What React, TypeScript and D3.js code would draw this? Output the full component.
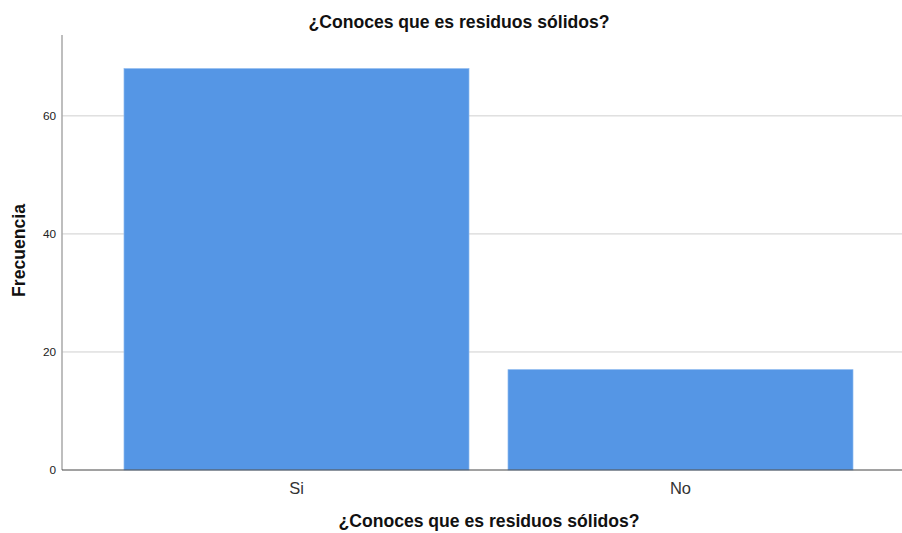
import React from "react";
import * as d3 from "d3";

const categories = ["Si", "No"];
const values = [68, 17];
const yTicks = [0, 20, 40, 60];
const title = "¿Conoces que es residuos sólidos?";
const xTitle = "¿Conoces que es residuos sólidos?";
const yTitle = "Frecuencia";

const W = 902;
const H = 533;
const plotLeft = 62;
const plotRight = 902;
const plotTop = 35;
const plotBottom = 470;

export default function App() {
  const x = d3
    .scaleBand<string>()
    .domain(categories)
    .range([104.5, 872.5])
    .paddingInner(0.1016)
    .paddingOuter(0.0508);
  const y = d3.scaleLinear().domain([0, 73.7]).range([plotBottom, plotTop]);
  const font = "'Liberation Sans', Arial, sans-serif";

  return (
    <svg
      width={W}
      height={H}
      style={{ position: "absolute", left: 0, top: 0, background: "#fff" }}
      fontFamily={font}
    >
      <text x={459} y={28} textAnchor="middle" fontSize={17.6} fontWeight="bold" fill="#111">
        {title}
      </text>
      {yTicks.filter((t) => t > 0).map((t) => (
        <line key={"g" + t} x1={plotLeft} x2={plotRight} y1={y(t)} y2={y(t)} stroke="#cfcfcf" strokeWidth={1} />
      ))}
      {categories.map((c, i) => (
        <rect
          key={c}
          x={x(c)}
          y={y(values[i])}
          width={x.bandwidth()}
          height={plotBottom - y(values[i])}
          fill="#5596e5"
          stroke="#8ab8ef"
          strokeWidth={0.7}
        />
      ))}
      <line x1={plotLeft} x2={plotLeft} y1={plotTop} y2={plotBottom} stroke="#a8a8a8" strokeWidth={1.5} />
      <line x1={plotLeft} x2={plotRight} y1={plotBottom} y2={plotBottom} stroke="#444" strokeWidth={1} />
      {yTicks.map((t) => (
        <text key={"t" + t} x={56} y={y(t)} dy="0.35em" textAnchor="end" fontSize={11.8} fill="#222">
          {t}
        </text>
      ))}
      {categories.map((c) => (
        <text
          key={"l" + c}
          x={(x(c) ?? 0) + x.bandwidth() / 2}
          y={494}
          textAnchor="middle"
          fontSize={16.5}
          fill="#333"
        >
          {c}
        </text>
      ))}
      <text x={489} y={527} textAnchor="middle" fontSize={17.6} fontWeight="bold" fill="#111">
        {xTitle}
      </text>
      <text
        transform={`translate(25, 250.5) rotate(-90)`}
        textAnchor="middle"
        fontSize={17.6}
        fontWeight="bold"
        fill="#111"
      >
        {yTitle}
      </text>
    </svg>
  );
}
